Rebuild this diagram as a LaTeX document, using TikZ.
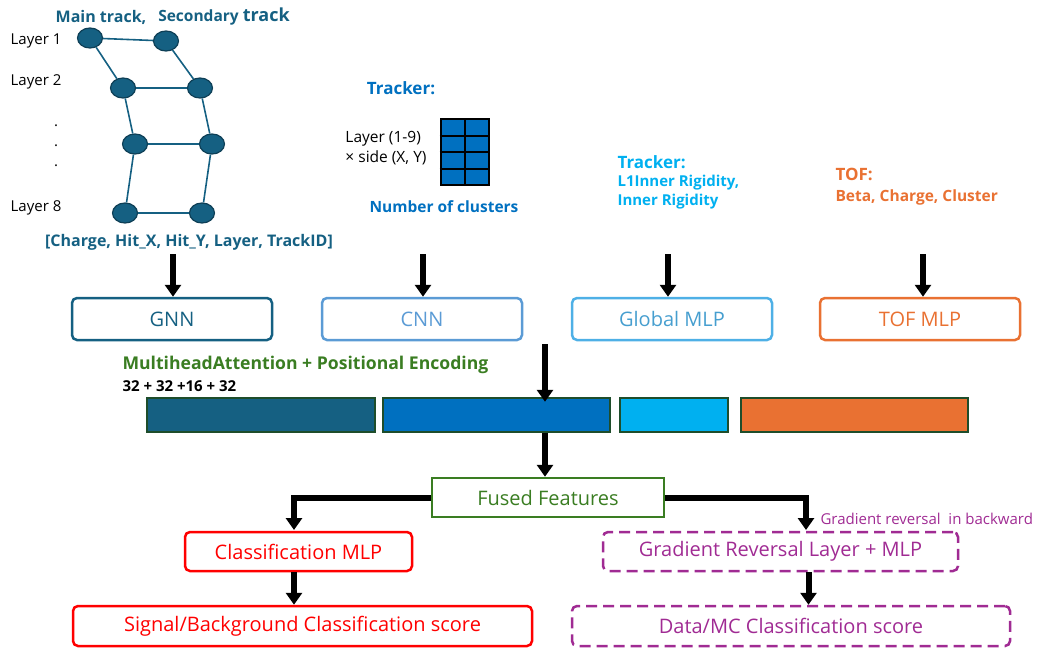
\documentclass[tikz,border=0pt]{standalone}
\usepackage{fontspec}
\setmainfont{Open Sans}
\usepackage{tikz}
\usetikzlibrary{arrows.meta, shapes.geometric}
\tikzset{>={Triangle[width=16pt,length=12pt]}}

\definecolor{trackteal}{HTML}{156082}
\definecolor{hitedge}{HTML}{0E3F56}
\definecolor{trkblue}{HTML}{0070C0}
\definecolor{cnnblue}{HTML}{5B9BD5}
\definecolor{trkcyan}{HTML}{00B0F0}
\definecolor{globcyan}{HTML}{4EB0E6}
\definecolor{toforange}{HTML}{E97132}
\definecolor{attgreen}{HTML}{3A7D22}
\definecolor{bargreen}{HTML}{1E4D2B}
\definecolor{grlpurple}{HTML}{A02B93}

\tikzset{
  hit/.style={ellipse, draw=hitedge, fill=trackteal, line width=1.2pt,
    minimum width=25pt, minimum height=20pt, inner sep=0pt},
  hitlink/.style={draw=trackteal, line width=1.6pt},
  fat/.style={->, line width=6pt},
  netbox/.style={draw, rounded corners=5pt, line width=2.5pt,
    minimum width=200pt, minimum height=42pt, font=\fontsize{20}{20}\selectfont},
  outbox/.style={draw, rounded corners=5pt, line width=2.5pt,
    minimum height=39pt, font=\fontsize{20}{20}\selectfont},
  advbox/.style={outbox, draw=grlpurple, text=grlpurple, dash pattern=on 11pt off 6pt},
  bar/.style={draw=bargreen, line width=2.5pt, minimum height=34pt},
  plain/.style={font=\fontsize{15}{17}\selectfont, align=left},
  head/.style={font=\bfseries\fontsize{17}{20}\selectfont},
  sub/.style={font=\bfseries\fontsize{15}{19}\selectfont, align=left},
}

\begin{document}
\begin{tikzpicture}[x=1pt, y=-1pt]
    \useasboundingbox (0,0) rectangle (1046,648);

    % GNN input: hits of the two tracks
    \node[font=\bfseries\fontsize{16}{18}\selectfont, text=trackteal] (main-title) at (101,17) {Main track,};
    \node[font=\bfseries\fontsize{15.5}{18}\selectfont, text=trackteal] (sec-title) at (224,17) {Secondary {\fontsize{18}{18}\selectfont track}};

    \node[plain] (layer-1) at (36,41) {Layer 1};
    \node[plain] (layer-2) at (36,82) {Layer 2};
    \node[plain] (dots) at (56,146) {.\\[3pt].\\[3pt].};
    \node[plain] (layer-8) at (36,208) {Layer 8};

    \node[hit] (m1) at (90,38) {};
    \node[hit] (m2) at (123,88) {};
    \node[hit] (m3) at (135,144) {};
    \node[hit] (m8) at (125,213) {};
    \node[hit] (s1) at (166,41) {};
    \node[hit] (s2) at (200,88) {};
    \node[hit] (s3) at (212,144) {};
    \node[hit] (s8) at (202,213) {};

    \draw[hitlink] (m1) -- (s1);
    \draw[hitlink] (m2) -- (s2);
    \draw[hitlink] (m3) -- (s3);
    \draw[hitlink] (m8) -- (s8);
    \draw[hitlink] (m1) -- (m2);
    \draw[hitlink] (m2) -- (m3);
    \draw[hitlink] (m3) -- (m8);
    \draw[hitlink] (s1) -- (s2);
    \draw[hitlink] (s2) -- (s3);
    \draw[hitlink] (s3) -- (s8);

    \node[sub, font=\bfseries\fontsize{16}{19}\selectfont, text=trackteal] (gnn-feat) at (189,242) {[Charge, Hit\_X, Hit\_Y, Layer, TrackID]};

    % CNN input
    \node[head, text=trkblue] (cnn-title) at (401,88) {Tracker:};
    \node[plain, font=\fontsize{15.5}{20}\selectfont] (cnn-desc) at (386,148) {Layer (1-9)\\× side (X, Y)};
    \node[draw=black, fill=trkblue, line width=2pt, minimum width=48pt, minimum height=66pt] (grid) at (464.5,152) {};
    \draw[line width=2pt] (grid.north) -- (grid.south);
    \draw[line width=2pt] (grid.west) -- (grid.east);
    \draw[line width=2pt] ([yshift=16.5pt]grid.west) -- ([yshift=16.5pt]grid.east);
    \draw[line width=2pt] ([yshift=-16.5pt]grid.west) -- ([yshift=-16.5pt]grid.east);
    \node[sub, font=\bfseries\fontsize{15.5}{19}\selectfont, text=trkblue] (cnn-feat) at (444,207) {Number of clusters};

    % global input
    \node[head, text=trkcyan, anchor=west] (glob-title) at (614,162) {Tracker:};
    \node[sub, text=trkcyan, anchor=north west] (glob-feat) at (614,172) {L1Inner Rigidity,\\Inner Rigidity};

    % TOF input
    \node[head, text=toforange, anchor=west] (tof-title) at (832,174) {TOF:};
    \node[sub, font=\bfseries\fontsize{15.5}{19}\selectfont, text=toforange, anchor=west] (tof-feat) at (832,197) {Beta, Charge, Cluster};

    % encoders
    \node[netbox, draw=trackteal, text=trackteal] (gnn) at (172,319) {GNN};
    \node[netbox, draw=cnnblue, text=cnnblue] (cnn) at (422,319) {CNN};
    \node[netbox, draw=globcyan, text=globcyan!90!black] (glob) at (672,319) {Global MLP};
    \node[netbox, draw=toforange, text=toforange] (tofmlp) at (920,319) {TOF MLP};

    \coordinate (gnn-in) at (173,254);
    \coordinate (cnn-in) at (423,254);
    \coordinate (glob-in) at (668,254);
    \coordinate (tof-in) at (923,254);
    \draw[fat] (gnn-in) -- (gnn-in |- gnn.north);
    \draw[fat] (cnn-in) -- (cnn-in |- cnn.north);
    \draw[fat] (glob-in) -- (glob-in |- glob.north);
    \draw[fat] (tof-in) -- (tof-in |- tofmlp.north);

    % attention + concatenated features
    \node[font=\bfseries\fontsize{17.6}{20}\selectfont, text=attgreen, anchor=west] (att) at (119,365) {MultiheadAttention + Positional Encoding};
    \node[font=\bfseries\fontsize{15}{15}\selectfont, anchor=west] (dims) at (119,386) {32 + 32 +16 + 32};

    \node[bar, fill=trackteal, minimum width=228pt] (bar-gnn) at (261,415) {};
    \node[bar, fill=trkblue, minimum width=227pt] (bar-cnn) at (496.5,415) {};
    \node[bar, fill=trkcyan, minimum width=108pt] (bar-glob) at (674,415) {};
    \node[bar, fill=toforange, minimum width=227pt] (bar-tof) at (854.5,415) {};

    \coordinate (att-in) at (545,344);
    \draw[fat] (att-in) -- ([yshift=-5pt]att-in |- bar-cnn.north);

    % fused features and heads
    \node[draw=attgreen, line width=2.5pt, minimum width=232pt, minimum height=39pt,
      text=attgreen, font=\fontsize{20}{20}\selectfont] (fused) at (548,497.5) {Fused Features};
    \draw[fat] (bar-cnn.south -| att-in) -- (att-in |- fused.north);

    \node[outbox, draw=red, text=red, minimum width=227pt] (clsmlp) at (298.5,551.5) {Classification MLP};
    \node[advbox, minimum width=355pt] (grl) at (780.5,551.5) {Gradient Reversal Layer + MLP};
    \node[outbox, draw=red, text=red, minimum width=459pt, minimum height=40pt] (sigscore) at (302.5,626) {Signal/Background Classification score};
    \node[advbox, minimum width=438pt, minimum height=40pt] (datamc) at (791,626) {Data/MC Classification score};

    \coordinate (cls-in) at (294,530);
    \coordinate (grl-in) at (806,530);
    \draw[fat] (fused.west) -| (cls-in);
    \draw[fat] (fused.east) -| (grl-in);
    \node[font=\fontsize{15}{15}\selectfont, text=grlpurple, anchor=west] (grl-note) at (817,519) {Gradient reversal\ \ in backward};

    \draw[fat] (clsmlp.south -| cls-in) -- (cls-in |- sigscore.north);
    \draw[fat] ([xshift=28pt]grl.south) -- ([xshift=28pt]grl.south |- datamc.north);

  \end{tikzpicture}
\end{document}
